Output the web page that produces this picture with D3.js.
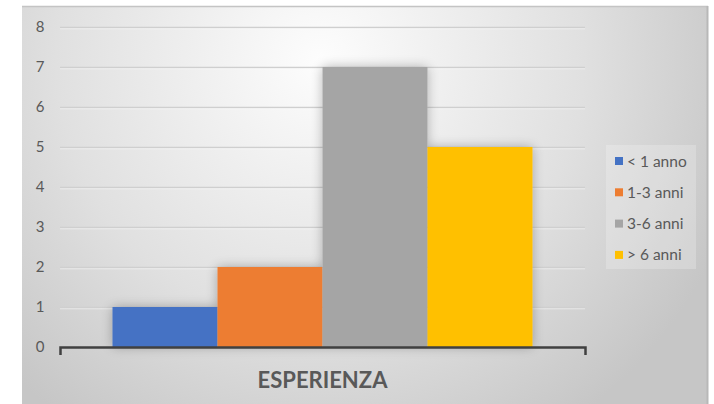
<!DOCTYPE html>
<html>
<head>
<meta charset="utf-8">
<script src="https://cdn.jsdelivr.net/npm/d3@7"></script>
<style>
  html, body { margin: 0; padding: 0; background: #fff; }
  svg { display: block; }
</style>
</head>
<body>
<svg id="chart" width="714" height="404"></svg>
<script>
const categories = ['ESPERIENZA']
const series = ['< 1 anno', '1-3 anni', '3-6 anni', '> 6 anni']
const values = [1, 2, 7, 5]
const colors = ['#4472c4', '#ed7d31', '#a5a5a5', '#ffc000']
const yTicks = [0, 1, 2, 3, 4, 5, 6, 7, 8]

const svg = d3.select('#chart')
const W = 714, H = 404
const frame = { x: 22, y: 6, w: 686, h: 400 }
const plot = { left: 60, right: 585, top: 27, bottom: 347 }

const defs = svg.append('defs')
const bg = defs.append('radialGradient').attr('id', 'bg')
  .attr('gradientUnits', 'userSpaceOnUse')
  .attr('cx', 320).attr('cy', 60).attr('r', 440)
bg.append('stop').attr('offset', 0).attr('stop-color', '#fdfdfd')
bg.append('stop').attr('offset', 0.6).attr('stop-color', '#e0e0e0')
bg.append('stop').attr('offset', 1).attr('stop-color', '#c6c6c6')

const shadow = defs.append('filter').attr('id', 'shadow')
  .attr('x', '-30%').attr('y', '-30%').attr('width', '160%').attr('height', '160%')
shadow.append('feGaussianBlur').attr('in', 'SourceAlpha').attr('stdDeviation', 6)
shadow.append('feComponentTransfer').append('feFuncA').attr('type', 'linear').attr('slope', 0.28)
const merge = shadow.append('feMerge')
merge.append('feMergeNode')
merge.append('feMergeNode').attr('in', 'SourceGraphic')

// chart area
svg.append('rect')
  .attr('x', frame.x).attr('y', frame.y).attr('width', frame.w).attr('height', frame.h)
  .attr('fill', 'url(#bg)')
svg.append('line')
  .attr('x1', frame.x).attr('x2', frame.x + frame.w).attr('y1', frame.y + 0.5).attr('y2', frame.y + 0.5)
  .attr('stroke', '#c4c4c4').attr('stroke-width', 1.5)
svg.append('line')
  .attr('x1', frame.x + frame.w - 0.5).attr('x2', frame.x + frame.w - 0.5)
  .attr('y1', frame.y).attr('y2', H)
  .attr('stroke', '#b8b8b8').attr('stroke-width', 2)

const y = d3.scaleLinear().domain([0, 8]).range([plot.bottom, plot.top])
const x0 = d3.scaleBand().domain(categories).range([plot.left, plot.right]).padding(0)
const x1 = d3.scaleBand().domain(series).range([0, x0.bandwidth()]).paddingOuter(0.5).paddingInner(0)

// gridlines
const grid = svg.append('g')
grid.selectAll('line.g').data(yTicks.filter(d => d > 0)).join('line')
  .attr('x1', plot.left).attr('x2', plot.right)
  .attr('y1', d => Math.round(y(d)) + 0.5).attr('y2', d => Math.round(y(d)) + 0.5)
  .attr('stroke', '#cfcfcf').attr('stroke-width', 1.3)
grid.selectAll('line.s').data(yTicks.filter(d => d > 0)).join('line')
  .attr('x1', plot.left).attr('x2', plot.right)
  .attr('y1', d => Math.round(y(d)) + 1.8).attr('y2', d => Math.round(y(d)) + 1.8)
  .attr('stroke', '#ffffff').attr('stroke-opacity', 0.5).attr('stroke-width', 1)

// y labels
svg.append('g').selectAll('text').data(yTicks).join('text')
  .attr('x', 40).attr('y', d => y(d) + 5)
  .attr('text-anchor', 'middle')
  .attr('font-family', 'Lato, "Open Sans", sans-serif').attr('font-size', 15)
  .attr('fill', '#595959')
  .text(d => d)

// bars
const bars = svg.append('g').attr('filter', 'url(#shadow)')
categories.forEach(cat => {
  bars.selectAll('rect.bar').data(series.map((s, i) => ({ s, v: values[i], c: colors[i] }))).join('rect')
    .attr('x', d => x0(cat) + x1(d.s))
    .attr('width', x1.bandwidth())
    .attr('y', d => y(d.v))
    .attr('height', d => y(0) - y(d.v))
    .attr('fill', d => d.c)
})

// axis
const axis = svg.append('g').attr('transform', `translate(0,${plot.bottom})`)
  .call(d3.axisBottom(x0).tickValues([]).tickSizeOuter(8))
axis.select('.domain').attr('stroke', '#404040').attr('stroke-width', 2.5)

// category label
svg.append('text')
  .attr('x', x0(categories[0]) + x0.bandwidth() / 2).attr('y', 388)
  .attr('text-anchor', 'middle')
  .attr('font-family', 'Lato, "Open Sans", sans-serif').attr('font-size', 22).attr('font-weight', 700)
  .attr('fill', '#595959')
  .text(categories[0])

// legend
const legend = svg.append('g')
legend.append('rect')
  .attr('x', 606).attr('y', 145).attr('width', 90).attr('height', 124)
  .attr('fill', '#ffffff').attr('fill-opacity', 0.22)
const items = legend.selectAll('g').data(series).join('g')
  .attr('transform', (d, i) => `translate(615,${161 + i * 31.3})`)
items.append('rect').attr('x', 0).attr('y', -4).attr('width', 8).attr('height', 8)
  .attr('fill', (d, i) => colors[i])
items.append('text').attr('x', 12).attr('y', 5.5)
  .attr('font-family', 'Lato, "Open Sans", sans-serif').attr('font-size', 15.5)
  .attr('fill', '#595959')
  .text(d => d)
</script>
</body>
</html>
